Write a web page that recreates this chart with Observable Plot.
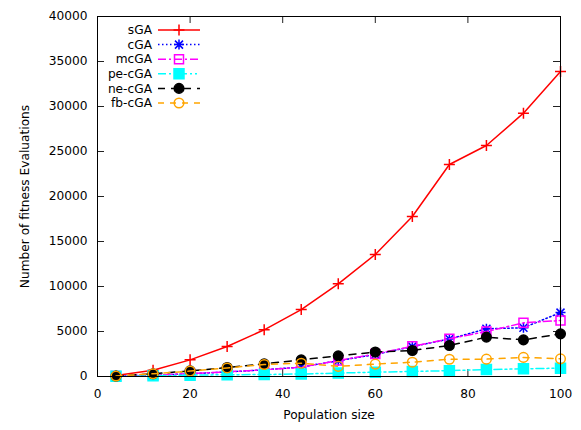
<!DOCTYPE html>
<html>
<head>
<meta charset="utf-8">
<script src="https://cdn.jsdelivr.net/npm/d3@7"></script>
<script src="https://cdn.jsdelivr.net/npm/@observablehq/plot@0.6"></script>
<style>
  html, body { margin: 0; padding: 0; background: #fff; }
  #chart { width: 581px; height: 430px; }
</style>
</head>
<body>
<div id="chart"></div>
<script>
// ---- data ----
const popSize = [4, 12, 20, 28, 36, 44, 52, 60, 68, 76, 84, 92, 100];
const sGA   = [100, 700, 1850, 3330, 5190, 7440, 10300, 13560, 17780, 23560, 25670, 29260, 33900];
const cGA   = [40, 140, 300, 500, 750, 1050, 1750, 2450, 3320, 4170, 5300, 5420, 7100];
const mcGA  = [50, 150, 320, 520, 740, 1030, 1780, 2500, 3350, 4190, 5000, 5960, 6220];
const peCGA = [30, 80, 150, 200, 220, 280, 380, 480, 560, 650, 770, 850, 930];
const neCGA = [50, 300, 620, 1000, 1400, 1850, 2300, 2720, 2890, 3440, 4370, 4070, 4740];
const fbCGA = [50, 300, 600, 950, 1330, 1480, 1120, 1380, 1590, 1920, 1930, 2120, 1960];
const seriesNames = ["sGA", "cGA", "mcGA", "pe-cGA", "ne-cGA", "fb-cGA"];
const xTicks = [0, 20, 40, 60, 80, 100];
const yTicks = [0, 5000, 10000, 15000, 20000, 25000, 30000, 35000, 40000];

// ---- symbols (gnuplot-like) ----
const sym = {
  plus:   {draw(c) { const h = 5.5; c.moveTo(-h, 0); c.lineTo(h, 0); c.moveTo(0, -h); c.lineTo(0, h); }},
  star:   {draw(c) { const h = 5, d = 4; c.moveTo(-h, 0); c.lineTo(h, 0); c.moveTo(0, -h); c.lineTo(0, h);
                     c.moveTo(-d, -d); c.lineTo(d, d); c.moveTo(-d, d); c.lineTo(d, -d); }},
  square: {draw(c) { const h = 4.5; c.moveTo(-h, -h); c.lineTo(h, -h); c.lineTo(h, h); c.lineTo(-h, h); c.closePath(); }},
  fsquare:{draw(c) { const h = 5; c.moveTo(-h, -h); c.lineTo(h, -h); c.lineTo(h, h); c.lineTo(-h, h); c.closePath(); }},
  circle: {draw(c) { const r = 4.8; c.moveTo(r, 0); c.arc(0, 0, r, 0, 2 * Math.PI); }}
};

const series = [
  {name: seriesNames[0], values: sGA,   color: "#ff0000", dash: null,               symbol: sym.plus,    fill: "none"},
  {name: seriesNames[1], values: cGA,   color: "#0000ff", dash: "1.5,2.5",          symbol: sym.star,    fill: "none"},
  {name: seriesNames[2], values: mcGA,  color: "#ff00ff", dash: "8,3,2,3",          symbol: sym.square,  fill: "none"},
  {name: seriesNames[3], values: peCGA, color: "#00ffff", dash: "8,3,2,3,2,3",      symbol: sym.fsquare, fill: "#00ffff"},
  {name: seriesNames[4], values: neCGA, color: "#000000", dash: "7,6",              symbol: sym.circle,  fill: "#000000"},
  {name: seriesNames[5], values: fbCGA, color: "#ffa500", dash: "6,6",              symbol: sym.circle,  fill: "none"}
];

const W = 581, H = 430;
const mL = 97, mR = 21, mT = 16, mB = 54;
const fw = W - mL - mR, fh = H - mT - mB;
const tick = 7;
const font = "DejaVu Sans";

const seriesMarks = series.flatMap(s => {
  const data = popSize.map((x, i) => ({x, y: s.values[i]}));
  return [
    Plot.line(data, {x: "x", y: "y", stroke: s.color, strokeWidth: 1.5, strokeDasharray: s.dash}),
    Plot.dot(data, {x: "x", y: "y", symbol: s.symbol, stroke: s.color, fill: s.fill, strokeWidth: 1.5})
  ];
});

const plot = Plot.plot({
  width: W, height: H,
  marginLeft: mL, marginRight: mR, marginTop: mT, marginBottom: mB,
  style: {fontFamily: font, fontSize: "12.2px", color: "#000", background: "#fff"},
  x: {domain: [0, 100], label: null},
  y: {domain: [0, 40000], label: null},
  marks: [
    // inward ticks on all four sides
    Plot.tickX(xTicks, {x: d => d, insetTop: fh - tick, stroke: "#222"}),
    Plot.tickX(xTicks, {x: d => d, insetBottom: fh - tick, stroke: "#222"}),
    Plot.tickY(yTicks, {y: d => d, insetRight: fw - tick, stroke: "#222"}),
    Plot.tickY(yTicks, {y: d => d, insetLeft: fw - tick, stroke: "#222"}),
    Plot.axisX(xTicks, {tickSize: 0, tickPadding: 13, label: null, fontSize: 12.2}),
    Plot.axisY(yTicks, {tickSize: 0, tickPadding: 10, label: null, tickFormat: d => String(d), fontSize: 12.2}),
    Plot.text(["Population size"], {frameAnchor: "bottom", textAnchor: "middle", dy: 42, text: d => d, fontSize: 12.2}),
    Plot.text(["Number of fitness Evaluations"], {frameAnchor: "left", textAnchor: "middle", rotate: -90, dx: -72, text: d => d, fontSize: 12.2}),
    ...seriesMarks,
    Plot.frame({stroke: "#000", strokeWidth: 1})
  ]
});

// ---- legend (top-left, inside the frame) ----
const svg = d3.select(plot);
const lg = svg.append("g").attr("class", "legend");
const row0 = 30, rowStep = 14.6, textRight = 152, lx1 = 158, lx2 = 200, mx = 179;
series.forEach((s, i) => {
  const y = row0 + i * rowStep;
  lg.append("text").attr("x", textRight).attr("y", y).attr("dy", "0.35em")
    .attr("text-anchor", "end").attr("font-family", font).attr("font-size", 12.2)
    .attr("fill", "#000").text(s.name);
  lg.append("line").attr("x1", lx1).attr("x2", lx2).attr("y1", y).attr("y2", y)
    .attr("stroke", s.color).attr("stroke-width", 1.5)
    .attr("stroke-dasharray", s.dash);
  const p = d3.path(); s.symbol.draw(p, 0);
  lg.append("path").attr("d", p.toString()).attr("transform", `translate(${mx},${y})`)
    .attr("stroke", s.color).attr("fill", s.fill).attr("stroke-width", 1.5);
});

document.getElementById("chart").appendChild(plot);
</script>
</body>
</html>
